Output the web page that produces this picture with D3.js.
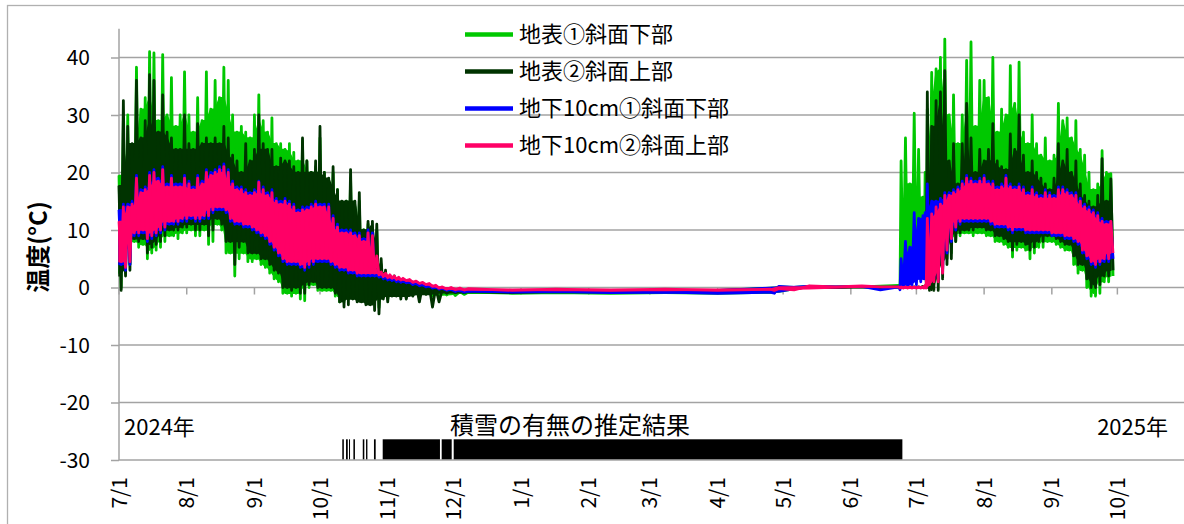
<!DOCTYPE html>
<html><head><meta charset="utf-8">
<script src="https://cdn.jsdelivr.net/npm/d3@7"></script>
<style>
html,body{margin:0;padding:0;background:#fff;}
svg{display:block;font-family:"Noto Sans CJK JP","Noto Sans",sans-serif;}
</style></head><body>
<svg id="chart" width="1184" height="524"></svg>
<script>
// ---------------- DATA ----------------
const startDate = "2024-07-01";
const endDate = "2025-11-01";
const seriesNames = ["地表①斜面下部","地表②斜面上部","地下10cm①斜面下部","地下10cm②斜面上部"];
const seriesColors = ["#00c800","#003300","#0000ff","#ff0066"];
const yTicks = [-30,-20,-10,0,10,20,30,40];
const yTitle = "温度(°C)";
const snowTitle = "積雪の有無の推定結果";
const yearLabels = ["2024年","2025年"];
const snowLevel = -26.4;

// day offsets from 2024-07-01
const dayOffsets = [0,2,4,6,8,10,12,14,16,18,20,22,24,26,28,30,32,34,36,38,40,42,44,46,48,50,52,54,56,58,60,62,64,66,68,70,72,74,76,78,80,82,84,86,88,90,92,94,96,98,100,102,104,106,108,110,112,114,116,118,120,122,124,126,128,130,
133,136,139,142,145,148,152,156,160,200,250,298,302,316,340,357,
358,360,362,364,366,368,369,370,372,374,376,378,380,382,384,386,388,390,392,394,396,398,400,402,404,406,408,410,412,414,416,418,420,422,424,426,428,430,432,434,436,438,440,442,444,446,448,450,452,454];

// 地表①斜面下部 (daily max / min)
const surf1Max = [19.5,29,30,24,38.3,31,33,41,40.8,29,40.5,30,36.5,28,30,37.5,30,27,33,29,37.5,31,36,33,38.3,36,30,27,28,27,26,30,33.5,29,27,29.5,25,25,24,25,23.5,22,25.5,22,20,21,26,20,18,20,17,14,15,19,14,15,10,11,10,10,4,2,1.5,1.5,1.2,1,
0.8,0.6,0.5,0.3,0,-0.3,-0.5,-0.7,-0.8,-0.9,-0.9,-0.8,0.1,0.2,0.2,0.2,
22,26,18,30.3,24,15.7,20,31,37.4,38,40,43.2,30,33.5,25,30,39.5,42.7,28,36,36,33,40,27,31,30,38.6,32,39.2,27,25,30,25,23,26,22,23,32,29,29.5,26,29,24,23,20,17,18,23.8,20,19.8];
const surf1Min = [0,2.5,4,8,7,7.5,5,6,6.5,7,8,9,9,8.5,9.5,9.5,10,9,9,10,7.5,8,11,10,6,6,2,5,6,4.5,4.5,5,4,3.5,2.5,1.5,1,-1,-1,-1.5,-1,-2,-2.3,0,0.5,-0.5,-0.5,-0.5,-0.5,-1.5,-2.5,-2.5,-2,-1.5,-2,-2,-2.5,-2,-2.5,-3.5,-1.5,-2,-1,-1,-1.5,-1.5,
-1.2,-1,-1,-1.5,-1.5,-1.3,-1.4,-1.2,-1,-1,-1,-0.9,0,0.1,0.1,0.1,
0.5,0.5,1,1,1.5,2,1,0.5,0.5,1,3,5,6,8,9,9.5,9.5,9,9.5,9.5,9,9,8,8,7.5,7,5.3,6.5,7,6.5,5,6,7,7,8,8,7.5,7,6.5,6.5,4,2.5,3,0,-1.5,-1.5,-1,1,1,2];

// 地表②斜面上部
const surf2Max = [17.7,32.5,28,25,36,26,29,37,36,27,33.5,27,26,24,24,30,25,24,28.5,25,26,25,26,25,28,26,23,22,20,25,22,24,30,25,24,24,21,22.5,22,22,21,20,26,22,20,22,28,20,19,21,17,15,15,20.5,15,16.5,10,11.5,11.5,11,5,3,2,2,1.5,1.2,
0.8,0.6,0.5,0.3,0,-0.3,-0.5,-0.6,-0.7,-0.7,-0.7,-0.6,0,0.1,0.1,0.1,
0.1,0.1,0.1,0.1,0.1,0.2,0.2,34,28,32.5,34,37.7,22,25,18,25,32,26,20,24,22,24,28.5,22,21,20.5,26.7,24,30,23,20,22,20,19,18,17,19,25,22,24,20,22,18,16,15,14,16,22.4,15,18.9];
const surf2Min = [-0.5,2,3,8.5,8,8.5,6,7,7.5,8,9,10,10,10,10.5,10.5,11,10,10,11,9,10,12,11,8,8,4,7,8,6,6,6,5,5,4,3,2.5,0,0,-0.5,0,-1,-1,0.5,1,0,0,0,0,-1,-2.5,-3.4,-3,-2,-2.5,-2.5,-3,-3,-4,-4.6,-2,-2.5,-1.5,-1.5,-2,-2,
-1.5,-2.5,-1.2,-3.4,-2.5,-1,-0.9,-0.9,-0.9,-0.8,-0.8,-0.7,-0.1,0,0,0,
0,0,0,0,0,0,0,-0.5,-0.5,-0.5,1.5,4,5,8,9.5,10,10,10,10.5,10.5,10,10,9,9,8.5,8,6.5,7.5,8,7.5,6.5,7,8,8,9,9,8.5,8,7.5,7.5,5.5,4,4,1.5,0,0,0.5,2,2,3];

// 地下10cm①斜面下部
const soil1Max = [13.5,14.5,14.5,15,19.5,17,17.5,20,20.5,19,21,18,19.5,18,18,19.5,18.5,17.5,19.5,18.5,20.5,20,20.5,21,21.5,20.5,18.5,17.5,17.5,17,16.5,17,18.5,17.5,16.5,17,15.5,15,15.5,15,14.5,13.5,14,14,14.5,15,14.5,14.5,14.5,12.5,11,10,10,10,9.5,9.5,8.5,10,9.5,3,2.5,2.2,2,1.8,1.6,1.4,
1,0.8,0.6,0.4,0.1,-0.1,-0.3,-0.4,-0.5,-0.7,-0.8,-0.8,0.2,0.2,0.2,0.1,
5,8,7,13,12,12.5,13,18,15,15,15.5,16.5,16.5,17,17.5,18.5,19.5,19,18.5,19,19.5,18.5,18.5,17.5,18,19.5,18,17.5,18,17.5,16.5,17.5,16.5,16,17,16.5,16,17.5,17.5,17,16.5,16.5,15.5,14.5,14,13.5,13,12,11.5,11.5];
const soil1Min = [4,3,4,9,9,9.5,8,8.5,9,9.5,10,11,11,11,11.5,11.5,12,11.5,11.5,12,12,13,13.5,13.5,13,11.5,11,11,10.5,10.5,10,9.5,9,8.5,7.5,6.5,5.5,4.5,4,4,4,3.5,3,3.5,4,4.5,4.5,4.5,4,3.5,3,3,2.5,2.5,2,2,2,2,2,1.8,1.5,1.3,1.2,1,0.9,0.8,
0.5,0.3,0.1,-0.1,-0.3,-0.5,-0.7,-0.8,-0.8,-0.9,-1,-1,0,0.1,-0.4,-0.4,
0,0,0.5,0.5,1,1.5,1.5,1,1.5,1.5,3,6,8,10,11,11.5,11.5,11.5,11.5,11.5,11.5,11,10.5,10.5,10.5,10,9.5,10,10,9.5,9.5,9.5,9.5,9.5,9.5,9,9,9,8.5,8.5,8,7.5,6,5,4,3.5,4,4.5,4.5,5];

// 地下10cm②斜面上部
const soil2Max = [11.5,14,14,14.5,19,16.5,17,19.5,20,18.5,20.5,17.5,19,17.5,17.5,19,18,17,19,18,20,19.5,20,20.5,21,20,18,17,17,16.5,16,16.5,18.3,17,16,16.5,15,14.5,15,14.5,14,13,13.5,13.5,14,14.5,14,14,14,12,10.5,9.5,9.5,9.5,9,9,8,9.5,9,5.5,2.7,2.5,2.2,2,1.8,1.6,
1.4,1.1,0.9,0.7,0.4,0.1,0,-0.1,-0.2,-0.3,-0.3,-0.3,-0.2,0.3,0.3,0.1,
0.1,0.1,0.1,0.1,0.1,0.1,0.1,12,12.8,14,14.5,16,16,16.5,17,18,19,18.5,18,18.5,19,18,18,17,17.5,19,17.5,17,17.5,17,16,17,16,15.5,16.5,16,15.5,17,17,16.5,16,16,15,14,13.5,13,12.5,11.5,11,11.5];
const soil2Min = [4.5,3.5,4.5,9.5,9.5,10,8.5,9,9.5,10,10.5,11.5,11.5,11.5,12,12,12.5,12,12,12.5,12.5,13.5,14,14,13.5,12,11.5,11.5,11,11,10.5,10,9.5,9,8,7,6,5,4.5,4.5,4.5,4,3.5,4,4.5,5,5,5,4.5,4,3.5,3.5,3,3,2.5,2.5,2.5,2.5,2.5,2.2,1.9,1.7,1.6,1.4,1.3,1.2,
0.9,0.7,0.5,0.2,-0.1,-0.3,-0.4,-0.45,-0.5,-0.5,-0.5,-0.5,-0.4,0.1,0.1,-0.1,
-0.1,-0.1,-0.1,-0.1,-0.1,-0.1,-0.1,0.5,1,1,2.5,6.5,8.5,10.5,11.5,12,12,12,12,12,12,11.5,11,11,11,10.5,10,10.5,10.5,10,10,10,10,10,10,9.5,9.5,9.5,9,9,8.5,8,6.5,5.5,4.5,4,4.5,5,5,6];

// estimated snow cover periods (UTC, hour resolution)
const snowStart = ["2024-10-11T05","2024-10-12T22","2024-10-14T07","2024-10-16T07","2024-10-20T14","2024-10-22T02","2024-10-25T17","2024-10-29T17","2024-11-25T17","2024-12-01T05"];
const snowEnd   = ["2024-10-11T22","2024-10-13T17","2024-10-14T17","2024-10-17T00","2024-10-21T07","2024-10-22T17","2024-10-26T12","2024-11-24T22","2024-11-30T07","2025-06-24T14"];

// ---------------- CHART ----------------
const svg = d3.select("#chart");
const W = 1184, H = 524;
const parseDay = d3.utcParse("%Y-%m-%d");
const parseHour = d3.utcParse("%Y-%m-%dT%H");
const t0 = parseDay(startDate), t1 = parseDay(endDate);

const x = d3.scaleUtc().domain([t0, t1]).range([119, 1185.1]);
const y = d3.scaleLinear().domain([-30, 45]).range([460, 28.75]);

const gridColor = "#a3a3a3";

// outer border
svg.append("rect").attr("x",7.5).attr("y",5.5).attr("width",1300).attr("height",700)
  .attr("fill","none").attr("stroke","#b0b0b0").attr("stroke-width",1.3);

// horizontal gridlines
svg.append("g").selectAll("line").data(yTicks).join("line")
  .attr("x1", 119).attr("x2", W)
  .attr("y1", d => y(d)).attr("y2", d => y(d))
  .attr("stroke", gridColor).attr("stroke-width", 1.5);

// y-axis
const yAxis = d3.axisLeft(y).tickValues(yTicks).tickSize(8).tickPadding(21).tickFormat(d => String(d));
const gy = svg.append("g").attr("transform","translate(119,0)").call(yAxis);
gy.select(".domain").remove();
gy.selectAll(".tick line").attr("stroke", gridColor).attr("stroke-width",1.5);
gy.selectAll(".tick text").attr("font-size",21).attr("fill","#000")
  .attr("font-family",'"Noto Sans CJK JP",sans-serif').attr("dy","0.34em");
svg.append("line").attr("x1",119).attr("x2",119).attr("y1",y(45)).attr("y2",y(-30))
  .attr("stroke",gridColor).attr("stroke-width",1.5);

// x-axis ticks on the zero line
const months = d3.utcMonth.range(t0, d3.utcDay.offset(parseDay("2025-10-01"),1));
svg.append("g").selectAll("line").data(months).join("line")
  .attr("x1", d => x(d)).attr("x2", d => x(d))
  .attr("y1", y(0)).attr("y2", y(0) + 7)
  .attr("stroke", gridColor).attr("stroke-width", 1.5);

// x tick labels at the bottom, rotated
const fmt = d3.utcFormat("%-m/%-d");
svg.append("g").selectAll("text").data(months).join("text")
  .attr("transform", d => `translate(${x(d)},477) rotate(-90)`)
  .attr("text-anchor","end").attr("dy","0.36em")
  .attr("font-size",21).attr("fill","#000")
  .text(d => fmt(d));

// series: solid core band plus a max/min zig-zag trace (needle peaks)
const dates = dayOffsets.map(d => d3.utcDay.offset(t0, d));
const maxes = [surf1Max, surf2Max, soil1Max, soil2Max];
const mins = [surf1Min, surf2Min, soil1Min, soil2Min];
const n = dates.length;
const coreArea = d3.area().x(d => x(d.t)).y0(d => y(d.lo)).y1(d => y(d.hi));
const trace = d3.line().x(d => d[0]).y(d => d[1]);
const gSeries = svg.append("g");
seriesNames.forEach((name, s) => {
  const mx = maxes[s], mn = mins[s];
  const core = dates.map((t, i) => {
    const a = Math.max(0, i - 1), b = Math.min(n - 1, i + 1);
    const hi = Math.min(mx[a], mx[i], mx[b]);
    const lo = Math.max(mn[a], mn[i], mn[b]);
    return {t, lo: Math.min(lo, hi), hi: Math.max(lo, hi)};
  });
  gSeries.append("path").datum(core)
    .attr("d", coreArea)
    .attr("fill", seriesColors[s])
    .attr("stroke", seriesColors[s])
    .attr("stroke-width", 1.5)
    .attr("stroke-linejoin","round");
  const zz = [];
  dates.forEach((t, i) => {
    const xi = x(t);
    const xn = i < n - 1 ? x(dates[i + 1]) : x(d3.utcDay.offset(t, 1)) + (x(d3.utcDay.offset(t, 1)) - xi);
    zz.push([xi, y(mx[i])]);
    zz.push([(xi + xn) / 2, y(mn[i])]);
  });
  gSeries.append("path").datum(zz)
    .attr("d", trace)
    .attr("fill", "none")
    .attr("stroke", seriesColors[s])
    .attr("stroke-width", 2.8)
    .attr("stroke-linejoin","round");
});

// snow presence bar
svg.append("g").selectAll("rect").data(snowStart).join("rect")
  .attr("x", d => x(parseHour(d)))
  .attr("width", (d,i) => Math.max(1, x(parseHour(snowEnd[i])) - x(parseHour(d))))
  .attr("y", y(snowLevel)).attr("height", y(-30) - y(snowLevel) - 0.7)
  .attr("fill","#000");

// snow title
svg.append("text").attr("x",570).attr("y",434).attr("text-anchor","middle")
  .attr("font-size",24).attr("fill","#000").text(snowTitle);

// year labels
svg.append("text").attr("x",124).attr("y",435).attr("font-size",22).attr("fill","#000").text(yearLabels[0]);
svg.append("text").attr("x",1168).attr("y",435).attr("text-anchor","end").attr("font-size",22).attr("fill","#000").text(yearLabels[1]);

// y title
svg.append("text").attr("transform","translate(36,247) rotate(-90)")
  .attr("text-anchor","middle").attr("dominant-baseline","central")
  .attr("font-size",24).attr("font-weight","bold").attr("fill","#000").text(yTitle);

// legend
const legendY = [34.5, 71.5, 108.5, 145.5];
const lg = svg.append("g");
seriesNames.forEach((name, s) => {
  lg.append("line").attr("x1",465).attr("x2",513).attr("y1",legendY[s]).attr("y2",legendY[s])
    .attr("stroke",seriesColors[s]).attr("stroke-width",4.5);
  lg.append("text").attr("x",519).attr("y",legendY[s]).attr("dy","0.36em")
    .attr("font-size",22).attr("fill","#000").text(name);
});
</script>
</body></html>
